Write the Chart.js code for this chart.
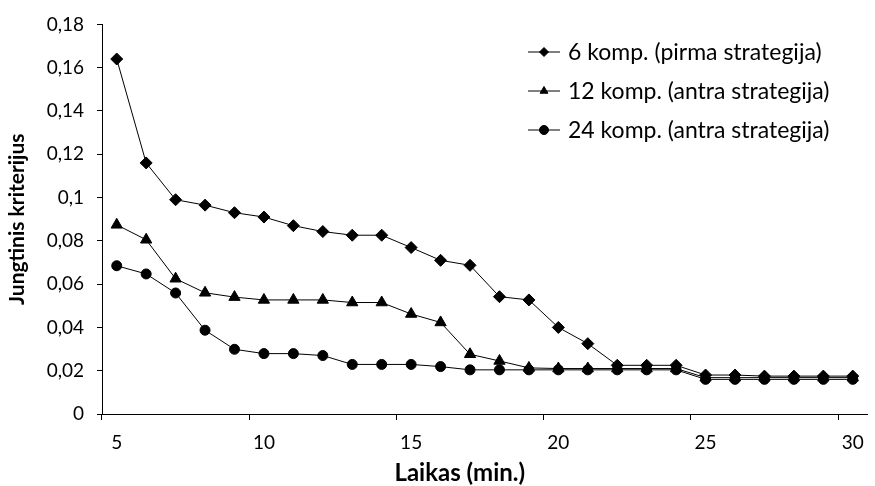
<!DOCTYPE html>
<html lang="lt">
<head>
<meta charset="utf-8">
<title>Jungtinis kriterijus</title>
<script src="https://cdn.jsdelivr.net/npm/chart.js@4.4.1/dist/chart.umd.min.js"></script>
<style>
    html, body { margin: 0; padding: 0; background: #fff; }
    #wrap { width: 875px; height: 486px; }
</style>
</head>
<body>
<div id="wrap"><canvas id="chart" width="875" height="486"></canvas></div>
<script>
// laikas minutemis (x ašies kategorijos)
const minutes = [5, 6, 7, 8, 9, 10, 11, 12, 13, 14, 15, 16, 17, 18, 19, 20, 21, 22, 23, 24, 25, 26, 27, 28, 29, 30];

// jungtinio kriterijaus reikšmės kiekvienai serijai
const komp6 = [0.164, 0.116, 0.099, 0.0965, 0.093, 0.091, 0.087, 0.0843, 0.0826, 0.0826, 0.0769, 0.071, 0.0687,
    0.0542, 0.0527, 0.040, 0.0325, 0.0225, 0.0225, 0.0225, 0.018, 0.018, 0.0175, 0.0175, 0.0175, 0.0175];
const komp12 = [0.0874, 0.0805, 0.0625, 0.056, 0.054, 0.0527, 0.0527, 0.0527, 0.0515, 0.0515, 0.0462, 0.0423, 0.0276,
    0.0245, 0.0213, 0.021, 0.021, 0.021, 0.021, 0.021, 0.0168, 0.0168, 0.0168, 0.0168, 0.0168, 0.0168];
const komp24 = [0.0685, 0.0647, 0.0559, 0.0387, 0.0299, 0.0279, 0.0279, 0.027, 0.0229, 0.0229, 0.0229, 0.0219, 0.0204,
    0.0204, 0.0204, 0.0204, 0.0204, 0.0204, 0.0204, 0.0204, 0.016, 0.016, 0.016, 0.016, 0.016, 0.016];

const seriesNames = ['6 komp. (pirma strategija)', '12 komp. (antra strategija)', '24 komp. (antra strategija)'];
const yTicks = {min: 0, max: 0.18, step: 0.02};
const xTitle = 'Laikas (min.)';

const FONT = 'Lato, "Open Sans", sans-serif';

// skaičius su kableliu, kaip lietuviškame Excel
const formatComma = (v) => String(parseFloat(Number(v).toFixed(2))).replace('.', ',');

// legenda piešiama plote: linija su žymekliu ir tekstas
const insideLegend = {
    id: 'insideLegend',
    afterDraw(chart, args, opts) {
        const ctx = chart.ctx;
        ctx.save();
        ctx.font = opts.font;
        ctx.textBaseline = 'middle';
        ctx.textAlign = 'left';
        chart.data.datasets.forEach((ds, i) => {
            const y = opts.top + i * opts.rowHeight;
            ctx.strokeStyle = '#000';
            ctx.fillStyle = '#000';
            ctx.lineWidth = 1;
            ctx.beginPath();
            ctx.moveTo(opts.left, y);
            ctx.lineTo(opts.left + opts.lineLength, y);
            ctx.stroke();
            Chart.helpers.drawPoint(ctx, {
                pointStyle: ds.pointStyle,
                radius: opts.pointRadius,
                rotation: 0,
                borderWidth: 1
            }, opts.left + opts.lineLength / 2, y);
            ctx.fillText(ds.label, opts.left + opts.lineLength + opts.gap, y + 1);
        });
        ctx.restore();
    }
};

// x ašies pavadinimas, šiek tiek paslinktas į kairę nuo ašies vidurio
const xAxisTitle = {
    id: 'xAxisTitle',
    afterDraw(chart, args, opts) {
        const sx = chart.scales.x;
        const ctx = chart.ctx;
        ctx.save();
        ctx.font = opts.font;
        ctx.fillStyle = '#000';
        ctx.textAlign = 'center';
        ctx.textBaseline = 'alphabetic';
        ctx.fillText(opts.text, (sx.left + sx.right) / 2 + opts.shift, opts.baseline);
        ctx.restore();
    }
};

function makeDataset(label, data, pointStyle, radius, order) {
    return {
        label: label,
        data: data,
        borderColor: '#000',
        backgroundColor: '#000',
        borderWidth: 1,
        pointStyle: pointStyle,
        pointRadius: radius,
        pointHoverRadius: radius,
        pointBackgroundColor: '#000',
        pointBorderColor: '#000',
        pointBorderWidth: 1,
        tension: 0,
        order: order
    };
}

new Chart(document.getElementById('chart'), {
    type: 'line',
    data: {
        labels: minutes,
        datasets: [
            makeDataset(seriesNames[0], komp6, 'rectRot', 6, 3),
            makeDataset(seriesNames[1], komp12, 'triangle', 6.5, 2),
            makeDataset(seriesNames[2], komp24, 'circle', 5, 1)
        ]
    },
    options: {
        responsive: false,
        animation: false,
        layout: {padding: {top: 19, right: 2, bottom: 0, left: 0}},
        plugins: {
            legend: {display: false},
            tooltip: {enabled: false},
            insideLegend: {
                left: 528,
                top: 52,
                rowHeight: 39,
                lineLength: 32,
                gap: 8,
                pointRadius: 4.5,
                font: '23px ' + FONT
            },
            xAxisTitle: {
                text: xTitle,
                shift: -25,
                baseline: 481,
                font: 'bold 24px ' + FONT
            }
        },
        scales: {
            x: {
                type: 'category',
                offset: true,
                afterFit(scale) { scale.height = 72; },
                border: {display: true, color: '#000', width: 1},
                grid: {
                    offset: true,
                    drawOnChartArea: false,
                    drawTicks: true,
                    tickLength: 6,
                    tickWidth: 1,
                    // žymės tik kas penkios kategorijos
                    tickColor: (ctx) => (ctx.index % 5 === 0 && ctx.index < minutes.length) ? '#000' : 'rgba(0,0,0,0)'
                },
                ticks: {
                    autoSkip: false,
                    maxRotation: 0,
                    padding: 11,
                    color: '#000',
                    font: {family: FONT, size: 19},
                    callback: function (value, index) {
                        const m = minutes[index];
                        return m % 5 === 0 ? String(m) : '';
                    }
                },
                title: {display: false}
            },
            y: {
                min: yTicks.min,
                max: yTicks.max,
                afterFit(scale) { scale.width = 102; },
                border: {display: true, color: '#000', width: 1},
                grid: {
                    drawOnChartArea: false,
                    drawTicks: true,
                    tickLength: 5,
                    tickWidth: 1,
                    tickColor: '#000'
                },
                ticks: {
                    stepSize: yTicks.step,
                    padding: 13,
                    color: '#000',
                    font: {family: FONT, size: 19},
                    callback: (value) => formatComma(value)
                },
                title: {
                    display: true,
                    text: 'Jungtinis kriterijus',
                    color: '#000',
                    font: {family: FONT, size: 21, weight: 'bold'},
                    padding: {top: 5, bottom: 0}
                }
            }
        }
    },
    plugins: [insideLegend, xAxisTitle]
});
</script>
</body>
</html>
